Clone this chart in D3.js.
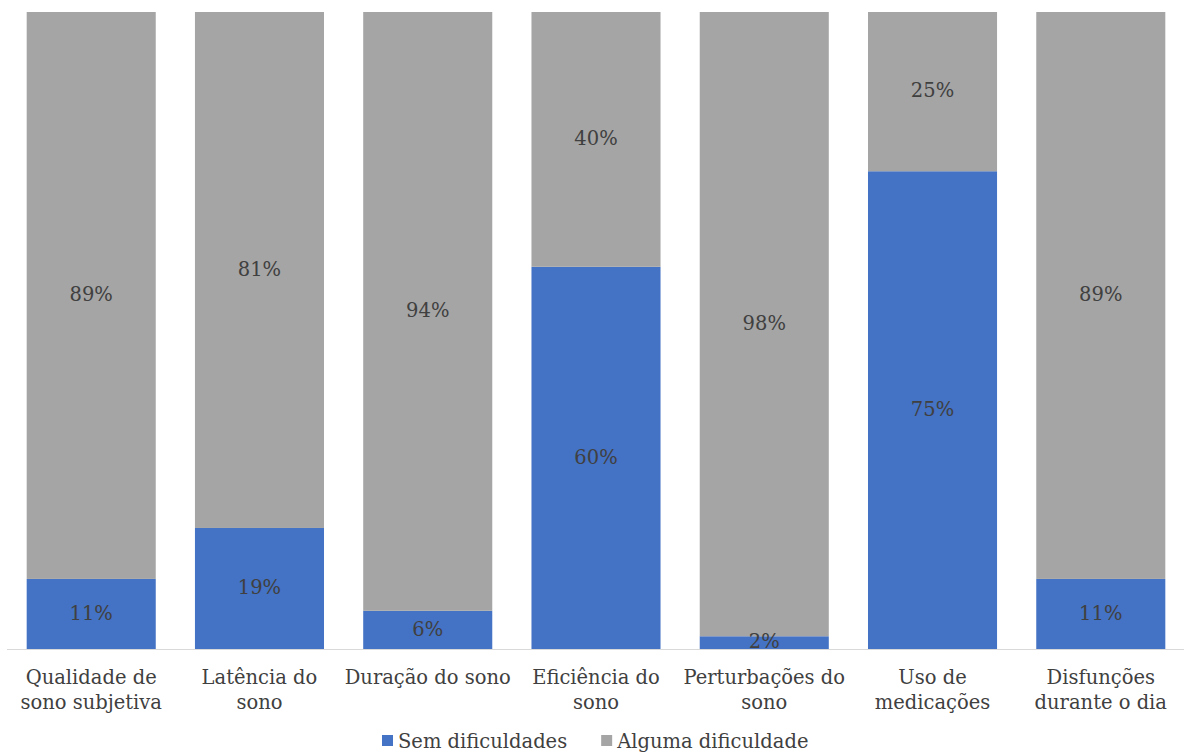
<!DOCTYPE html>
<html>
<head>
<meta charset="utf-8">
<script src="https://cdn.jsdelivr.net/npm/d3@7"></script>
<style>
  body { margin: 0; background: #fff; }
  text { font-family: "DejaVu Serif", serif; fill: #404040; }
</style>
</head>
<body>
<svg id="chart" width="1184" height="753"></svg>
<script>
// PSQI components: share of participants without / with difficulties (%)
const categories = [
  ["Qualidade de", "sono subjetiva"],
  ["Latência do", "sono"],
  ["Duração do sono"],
  ["Eficiência do", "sono"],
  ["Perturbações do", "sono"],
  ["Uso de", "medicações"],
  ["Disfunções", "durante o dia"]
];
const semDificuldades = [11, 19, 6, 60, 2, 75, 11];
const algumaDificuldade = [89, 81, 94, 40, 98, 25, 89];
const seriesNames = ["Sem dificuldades", "Alguma dificuldade"];
const colors = ["#4472C4", "#A5A5A5"];

const svg = d3.select("#chart");
const margin = { left: 7, right: 1185, top: 12, bottom: 649 };
const fontSize = "19.5px";

const x = d3.scaleBand()
  .domain(d3.range(categories.length))
  .range([margin.left, margin.right])
  .paddingInner(0.233)
  .paddingOuter(0.117);

const y = d3.scaleLinear().domain([0, 100]).range([margin.bottom, margin.top]);

const rows = categories.map((c, i) => ({ i, a: semDificuldades[i], b: algumaDificuldade[i] }));
const stack = d3.stack().keys(["a", "b"])(rows);

const g = svg.append("g");
stack.forEach((layer, k) => {
  g.selectAll(null).data(layer).enter().append("rect")
    .attr("x", d => x(d.data.i))
    .attr("width", x.bandwidth())
    .attr("y", d => y(d[1]))
    .attr("height", d => y(d[0]) - y(d[1]))
    .attr("fill", colors[k]);
});

// segment value labels
stack.forEach(layer => {
  g.selectAll(null).data(layer).enter().append("text")
    .attr("x", d => x(d.data.i) + x.bandwidth() / 2)
    .attr("y", d => (y(d[0]) + y(d[1])) / 2)
    .attr("dy", "0.3em")
    .attr("text-anchor", "middle")
    .style("font-size", fontSize)
    .text(d => (d[1] - d[0]) + "%");
});

// category axis
svg.append("line")
  .attr("x1", margin.left).attr("x2", margin.right)
  .attr("y1", y(0) + 0.5).attr("y2", y(0) + 0.5)
  .attr("stroke", "#D9D9D9").attr("stroke-width", 1);

const labels = svg.selectAll(null).data(categories).enter().append("text")
  .attr("text-anchor", "middle")
  .style("font-size", fontSize)
  .attr("x", (d, i) => x(i) + x.bandwidth() / 2)
  .attr("y", 684);
labels.selectAll("tspan").data(d => d).enter().append("tspan")
  .attr("x", function () { return d3.select(this.parentNode).attr("x"); })
  .attr("dy", (d, j) => j === 0 ? 0 : 25)
  .text(d => d);

// legend
const legend = svg.append("g");
const items = legend.selectAll("g").data(seriesNames).enter().append("g");
items.append("rect").attr("width", 11).attr("height", 11).attr("y", 735)
  .attr("fill", (d, i) => colors[i]);
items.append("text").attr("x", 16).attr("y", 748).style("font-size", fontSize).text(d => d);
let offset = 382;
items.each(function () {
  const w = this.getBBox().width;
  d3.select(this).attr("transform", `translate(${offset},0)`);
  offset += w + 34;
});
</script>
</body>
</html>
